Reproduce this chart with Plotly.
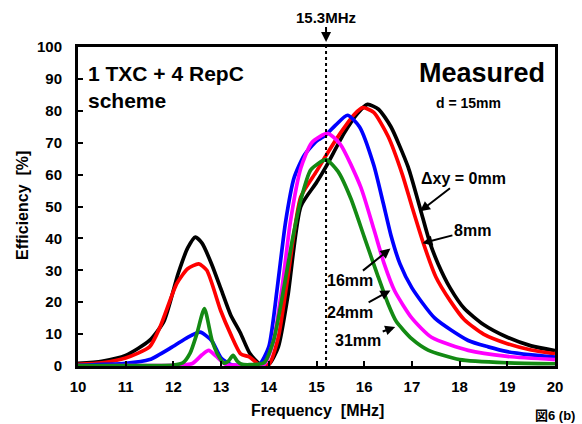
import plotly.graph_objects as go

# ---- data ----
f_0mm = [10, 10.5, 11, 11.5, 11.8, 12.1, 12.3, 12.46, 12.6, 12.8, 13.0, 13.2, 13.4, 13.6, 13.8, 14.0, 14.2, 14.4,
         14.67, 15.0, 15.2, 15.58, 15.85, 16.07, 16.3, 16.56, 16.92, 17.18, 17.37, 17.55, 17.8, 18.1, 18.5, 19.0, 19.5, 20]
e_0mm = [0.8, 1.5, 3.3, 8, 14, 29, 37, 40.4, 38.5, 32, 24, 16, 10.5, 4, 0.8, 0.5, 6, 22,
         50, 57.5, 62.5, 73, 79, 82, 80.5, 75, 62.4, 49, 39, 32, 24.5, 18, 13, 9, 6.3, 4.8]

f_8mm = [10, 10.5, 11, 11.5, 11.72, 12.07, 12.3, 12.53, 12.7, 12.99, 13.2, 13.41, 13.6, 13.8, 14.0, 14.2, 14.4,
         14.67, 15.0, 15.2, 15.5, 15.8, 15.97, 16.2, 16.5, 16.8, 17.0, 17.24, 17.5, 17.8, 18.1, 18.5, 19.0, 19.5, 20]
e_8mm = [0.5, 1, 2.5, 6, 12.2, 25.8, 30.5, 32, 30, 17.4, 10, 3.8, 2.8, 0.4, 0.5, 9, 28,
         53, 61, 66, 73, 79, 81, 79.5, 72, 60, 50, 38.5, 28, 20.5, 14.5, 10, 7, 5, 3.8]

f_16mm = [10, 11, 11.5, 11.97, 12.3, 12.56, 12.8, 13.0, 13.2, 13.5, 13.8, 14.0, 14.18, 14.35, 14.53, 14.74,
          15.0, 15.2, 15.4, 15.65, 15.9, 16.2, 16.4, 16.56, 16.75, 17.0, 17.48, 18.18, 18.6, 19.0, 19.5, 20]
e_16mm = [0.2, 0.8, 2, 5.9, 9, 10.6, 8, 2.5, 0.5, 0.2, 0.5, 6, 24.8, 45, 59, 66,
          70.5, 72.5, 75.5, 78.6, 75, 63, 51, 41, 32, 24.5, 15, 8, 6, 4.5, 3.5, 2.8]

f_24mm = [10, 11, 12, 12.4, 12.6, 12.74, 12.9, 13.1, 13.5, 13.9, 14.1, 14.28, 14.45, 14.67, 14.9, 15.23, 15.5,
          15.93, 16.2, 16.42, 16.64, 17.0, 17.41, 18.18, 19.0, 20]
e_24mm = [0, 0.1, 0.2, 0.8, 3.5, 4.9, 3, 0.5, 0.3, 0.5, 8, 24.8, 45, 62, 70, 72.9, 69.5,
          56, 43, 32, 23.5, 15, 9, 4.9, 3, 2]

f_31mm = [10, 11, 12, 12.2, 12.35, 12.49, 12.65, 12.81, 12.95, 13.06, 13.15, 13.25, 13.34, 13.42, 13.6, 13.9,
          14.1, 14.32, 14.5, 14.67, 14.88, 15.2, 15.45, 15.72, 16.0, 16.28, 16.5, 16.67, 17.0, 17.34, 18, 19, 20]
e_31mm = [0.1, 0.1, 0.3, 1, 4, 10, 18, 8, 3, 0.9, 1.5, 3.3, 1.5, 0.6, 0.4, 1,
          8, 24.8, 40, 52, 61.5, 64.7, 61, 52.5, 40.5, 28.5, 19.5, 14, 8.5, 5, 2, 1, 0.7]

series = [
    ("0mm", f_0mm, e_0mm, "#000000"),
    ("8mm", f_8mm, e_8mm, "#ff0000"),
    ("16mm", f_16mm, e_16mm, "#0000ff"),
    ("24mm", f_24mm, e_24mm, "#ff00ff"),
    ("31mm", f_31mm, e_31mm, "#138a13"),
]

marker_freq = 15.2  # dotted line (labelled 15.3MHz)

FONT = "Liberation Sans, Arial, sans-serif"

fig = go.Figure()
for name, fx, ey, col in series:
    fig.add_trace(go.Scatter(x=fx, y=ey, mode="lines", name=name,
                             line=dict(color=col, width=3.7, shape="spline", smoothing=0.6)))

fig.add_shape(type="line", x0=marker_freq, x1=marker_freq, y0=0, y1=100, xref="x", yref="y",
              line=dict(color="black", width=2, dash="dot"))

fig.update_layout(
    width=582, height=424,
    margin=dict(l=78, r=27, t=47, b=58),
    paper_bgcolor="white", plot_bgcolor="white",
    showlegend=False,
    font=dict(family=FONT, color="black"),
)
fig.update_xaxes(range=[10, 20], dtick=1, tick0=10, showgrid=False, zeroline=False,
                 showline=True, linewidth=3, linecolor="black", mirror=True,
                 ticks="inside", ticklen=5, tickwidth=2, tickcolor="black",
                 ticklabelstandoff=5,
                 tickfont=dict(family=FONT, size=15, weight="bold"))
fig.update_yaxes(range=[0, 100], dtick=10, tick0=0, showgrid=False, zeroline=False,
                 showline=True, linewidth=3, linecolor="black", mirror=True,
                 ticks="inside", ticklen=5, tickwidth=2, tickcolor="black",
                 ticklabelstandoff=10,
                 tickfont=dict(family=FONT, size=15, weight="bold"))

W, H = 477.0, 319.0

def px(xp):
    return (xp - 78) / W

def py(yp):
    return (366 - yp) / H

ann = []
C = dict(xanchor="center", yanchor="middle")
# axis titles
ann.append(dict(text="Frequency  [MHz]", x=px(317), y=py(410), xref="paper", yref="paper",
                showarrow=False, font=dict(size=16, weight="bold"), **C))
ann.append(dict(text="Efficiency  [%]", x=px(22), y=py(206), xref="paper", yref="paper",
                showarrow=False, textangle=-90, font=dict(size=16, weight="bold"), **C))
# texts
ann.append(dict(text="1 TXC + 4 RepC<br>scheme", x=px(86), y=py(60), xref="paper", yref="paper",
                xanchor="left", yanchor="top", align="left", showarrow=False,
                font=dict(size=21, weight="bold")))
ann.append(dict(text="Measured", x=px(482), y=py(73), xref="paper", yref="paper",
                showarrow=False, font=dict(size=27, weight="bold"), **C))
ann.append(dict(text="d = 15mm", x=px(468), y=py(103), xref="paper", yref="paper",
                showarrow=False, font=dict(size=14, weight="bold"), **C))
ann.append(dict(text="図6 (b)", x=px(555), y=py(415), xref="paper", yref="paper",
                showarrow=False, font=dict(size=13, weight="bold",
                                           family="Liberation Sans, Noto Sans CJK JP, sans-serif"), **C))
# 15.3MHz marker arrow
ann.append(dict(text="15.3MHz", x=marker_freq, y=py(42), xref="x", yref="paper",
                showarrow=True, ax=0, ay=-25, arrowhead=2, arrowsize=1, arrowwidth=2,
                arrowcolor="black", font=dict(size=15, weight="bold")))

# curve labels with arrows: (text, tip freq, tip eff, ax, ay)
labels = [
    ("Δxy = 0mm", 17.17, 48.5, 43, -33),
    ("8mm", 17.22, 38.5, 50, -13),
    ("16mm", 16.55, 36.8, -40, 32),
    ("24mm", 16.55, 23.7, -40, 22),
    ("31mm", 16.65, 12.2, -37, 13),
]
for t, fx, ey, ax, ay in labels:
    ann.append(dict(text=t, x=fx, y=ey, xref="x", yref="y", showarrow=True, ax=ax, ay=ay,
                    arrowhead=2, arrowsize=1, arrowwidth=2, arrowcolor="black",
                    font=dict(size=16, weight="bold")))

fig.update_layout(annotations=ann)
fig.write_html("out.html")
